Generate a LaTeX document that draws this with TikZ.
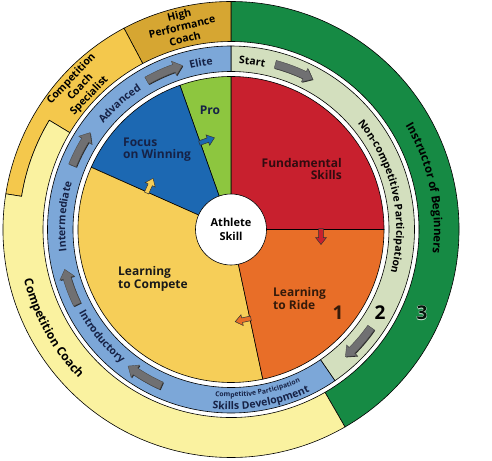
\documentclass[tikz,border=0pt]{standalone}
\usepackage{fontspec}
\setmainfont{Open Sans}
\usetikzlibrary{decorations.text}
\definecolor{ringgreen}{RGB}{22,138,68}
\definecolor{hpcgold}{RGB}{214,166,50}
\definecolor{specgold}{RGB}{244,200,76}
\definecolor{ccyellow}{RGB}{250,242,160}
\definecolor{bandgreen}{RGB}{211,223,190}
\definecolor{bandblue}{RGB}{124,167,216}
\definecolor{pieblue}{RGB}{28,104,178}
\definecolor{piegreen}{RGB}{141,198,63}
\definecolor{pieyellow}{RGB}{246,206,88}
\definecolor{pieorange}{RGB}{232,110,40}
\definecolor{piered}{RGB}{200,32,46}
\definecolor{arrgray}{RGB}{112,112,114}
\definecolor{navy}{RGB}{22,34,70}
\definecolor{darkred}{RGB}{50,12,16}
\definecolor{darkbrown}{RGB}{52,26,10}
\tikzset{
  edge/.style={draw=black, line width=0.6pt},
  lbl/.style={font=\bfseries\fontsize{12}{12.5}\selectfont, inner sep=0pt},
  bignum/.style={font=\bfseries\fontsize{19}{19}\selectfont, inner sep=0pt},
  ringlbl/.style={font=\bfseries\fontsize{10.5}{12.3}\selectfont, inner sep=0pt, align=center},
}
\newcommand\cwtext[5]{%
  \path[decorate,decoration={text along path,text align=center,text={|#4|#5}}]
    ({#1+#3}:#2) arc[start angle={#1+#3}, end angle={#1-#3}, radius=#2];}
\newcommand\ccwtext[5]{%
  \path[decorate,decoration={text along path,text align=center,text={|#4|#5}}]
    ({#1-#3}:#2) arc[start angle={#1-#3}, end angle={#1+#3}, radius=#2];}
\newcommand\sarrow[3]{%
  \begin{scope}[shift={(#2:#3)},rotate={#2-90}]
    \filldraw[fill=#1, draw=black!80, line width=0.5pt]
      (-1,-2.3) -- (8,-2.3) -- (8,-5.5) -- (15,0) -- (8,5.5) -- (8,2.3) -- (-1,2.3) -- cycle;
  \end{scope}}
\newcommand\barrow[2]{%
  \fill[black!85, shift={(0.8,-0.8)}] (#1:175) arc[start angle=#1,end angle={#2+3},radius=175]
    -- ({#2+3}:178.5) -- (#2:171) -- ({#2+3}:163.5) -- ({#2+3}:167)
    arc[start angle={#2+3},end angle=#1,radius=167] -- cycle;
  \filldraw[fill=arrgray, draw=black!70, line width=0.4pt] (#1:175) arc[start angle=#1,end angle={#2+3},radius=175]
    -- ({#2+3}:178.5) -- (#2:171) -- ({#2+3}:163.5) -- ({#2+3}:167)
    arc[start angle={#2+3},end angle=#1,radius=167] -- cycle;}
\newcommand\bandfont{\bfseries\fontsize{10.5}{12}\selectfont}
\begin{document}
\begin{tikzpicture}[x=1pt,y=1pt]
\useasboundingbox (-231,-230.5) rectangle (261,229.5);
% outer ring
\filldraw[edge, fill=ringgreen] (-60:228) arc[start angle=-60,end angle=90,radius=228]
  -- (90:188) arc[start angle=90,end angle=-60,radius=188] -- cycle;
\filldraw[edge, fill=hpcgold] (90:228) arc[start angle=90,end angle=118,radius=228]
  -- (118:188) arc[start angle=118,end angle=90,radius=188] -- cycle;
\filldraw[edge, fill=specgold] (118:228) arc[start angle=118,end angle=171,radius=228]
  -- (171:212) arc[start angle=171,end angle=149,radius=212]
  -- (149:188) arc[start angle=149,end angle=118,radius=188] -- cycle;
\filldraw[edge, fill=ccyellow] (171:228) arc[start angle=171,end angle=300,radius=228]
  -- (300:188) arc[start angle=300,end angle=149,radius=188]
  -- (149:212) arc[start angle=149,end angle=171,radius=212] -- cycle;
% band
\filldraw[edge, fill=bandgreen] (-55.5:183.5) arc[start angle=-55.5,end angle=90,radius=183.5]
  -- (90:158) arc[start angle=90,end angle=-55.5,radius=158] -- cycle;
\filldraw[edge, fill=bandblue] (90:183.5) arc[start angle=90,end angle=304.5,radius=183.5]
  -- (304.5:158) arc[start angle=304.5,end angle=90,radius=158] -- cycle;
% pie
\filldraw[edge, fill=piered] (0,0) -- (0:153) arc[start angle=0,end angle=90,radius=153] -- cycle;
\filldraw[edge, fill=piegreen] (0,0) -- (90:153) arc[start angle=90,end angle=109.5,radius=153] -- cycle;
\filldraw[edge, fill=pieblue] (0,0) -- (109.5:153) arc[start angle=109.5,end angle=156,radius=153] -- cycle;
\filldraw[edge, fill=pieyellow] (0,0) -- (156:153) arc[start angle=156,end angle=282,radius=153] -- cycle;
\filldraw[edge, fill=pieorange] (0,0) -- (282:153) arc[start angle=282,end angle=360,radius=153] -- cycle;
% sector arrows
\sarrow{piered}{0}{90}
\sarrow{pieorange}{-78}{91}
\sarrow{pieyellow}{156}{92}
\sarrow{pieblue}{109.5}{92}
% centre
\node[circle, draw=black, line width=0.6pt, fill=white, minimum size=71pt, inner sep=0pt,
  align=center, font=\bfseries\fontsize{11}{14}\selectfont] (athlete) at (0,0) {Athlete\\Skill};
% band arrows
\barrow{75}{61.5}
\barrow{-35}{-48}
\barrow{246}{233}
\barrow{206}{193.5}
\barrow{158}{145.5}
\barrow{119.5}{106.5}
% pie labels
\node[lbl, text=navy] (pro) at (-21,119.5) {Pro};
\node[lbl, text=navy, anchor=west, align=left] (focus) at (-108,79.8) {Focus\\on Winning};
\node[lbl, text=darkred, anchor=east, align=right] (fund) at (111,60.3) {Fundamental\\Skills};
\node[lbl, text=darkbrown, anchor=west, align=left] (ride) at (42,-68.8) {Learning\\to Ride};
\node[lbl, text=black!90, anchor=west, align=left] (compete) at (-113,-49.5) {Learning\\to Compete};
% numbers
\node[bignum, text=darkbrown] (n1) at (107,-83.5) {1};
\node[bignum, text=black] (n2) at (149,-83.5) {2};
\foreach \dx/\dy in {0.35/0,-0.35/0,0/0.35,0/-0.35}
  \node[bignum, text=white!80!ringgreen] at (191+\dx,-83.5+\dy) {3};
\node[bignum, text=black!85!ringgreen] (n3) at (191,-83.5) {3};
% band labels
\cwtext{82.8}{165.8}{30}{\bandfont}{Start}
\cwtext{100.2}{165.8}{30}{\bandfont\color{navy}}{Elite}
\cwtext{131.5}{165.8}{40}{\bandfont\color{navy}}{Advanced}
\cwtext{175.5}{165.8}{40}{\bandfont\color{navy}}{Intermediate}
\ccwtext{219.6}{173.2}{40}{\bandfont\color{navy}}{Introductory}
\cwtext{12.5}{165.3}{50}{\bandfont}{Non-competitive Participation}
\ccwtext{-80.5}{167.5}{40}{\bfseries\fontsize{6.8}{8}\selectfont\color{navy}}{Competitive Participation}
\ccwtext{-80}{180}{40}{\bfseries\fontsize{10.5}{12}\selectfont\color{navy}}{Skills Development}
% ring labels
\cwtext{12}{203}{50}{\bfseries\fontsize{11.5}{13}\selectfont}{Instructor of Beginners}
\ccwtext{209}{213}{40}{\bfseries\fontsize{12}{14}\selectfont}{Competition Coach}
\node[ringlbl, rotate=13.6] (hpc) at (-49,203) {High\\Performance\\Coach};
\node[ringlbl, rotate=46.7] (spec) at (-150.5,142) {Competition\\Coach\\Specialist};
\end{tikzpicture}
\end{document}
